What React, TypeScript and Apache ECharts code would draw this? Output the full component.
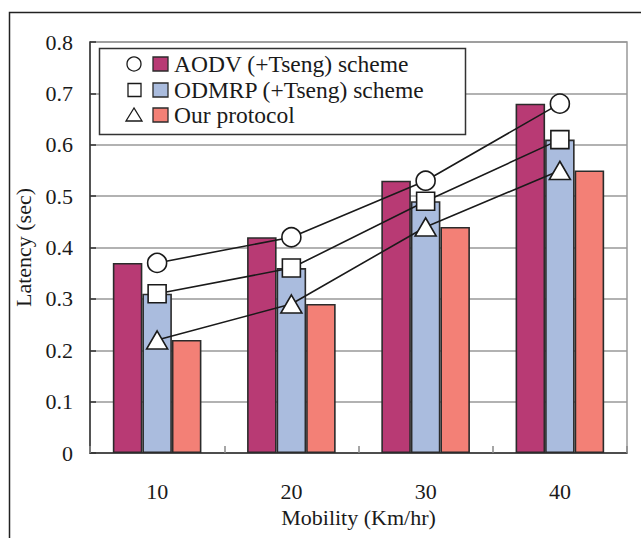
import React, { useEffect, useRef } from "react";
import * as echarts from "echarts";

const categories = ["10", "20", "30", "40"];
const aodvBars = [0.37, 0.42, 0.53, 0.68];
const odmrpBars = [0.31, 0.36, 0.49, 0.61];
const ourBars = [0.22, 0.29, 0.44, 0.55];
const aodvLine = [0.37, 0.42, 0.53, 0.68];
const odmrpLine = [0.31, 0.36, 0.49, 0.61];
const ourLine = [0.22, 0.29, 0.44, 0.55];
const seriesNames = ["AODV (+Tseng) scheme", "ODMRP (+Tseng) scheme", "Our protocol"];

const FONT = "Liberation Serif";
const colors = ["#B83A74", "#AABCDE", "#F38076"];

export default function App() {
  const ref = useRef<HTMLDivElement>(null);
  useEffect(() => {
    if (!ref.current) return;
    const chart = echarts.init(ref.current, undefined, { renderer: "svg" });
    const barStyle = (c: string) => ({ color: c, borderColor: "#2b2b2b", borderWidth: 1.6 });
    const lineSeries = (name: string, data: number[], symbol: string, size: any) => ({
      name,
      type: "line",
      data,
      symbol,
      symbolSize: size,
      z: 5,
      lineStyle: { color: "#1a1a1a", width: 1.6 },
      itemStyle: { color: "#ffffff", borderColor: "#1a1a1a", borderWidth: 1.6 },
    });
    const rowY = [64, 90, 115];
    const legendGraphics: any[] = [
      {
        type: "rect",
        shape: { x: 99.5, y: 48.5, width: 366, height: 86 },
        style: { fill: "#ffffff", stroke: "#333333", lineWidth: 1.5 },
        z: 100,
      },
    ];
    rowY.forEach((y, i) => {
      if (i === 0) {
        legendGraphics.push({
          type: "circle",
          shape: { cx: 134, cy: y, r: 7 },
          style: { fill: "#fff", stroke: "#1a1a1a", lineWidth: 1.3 },
          z: 101,
        });
      } else if (i === 1) {
        legendGraphics.push({
          type: "rect",
          shape: { x: 128, y: y - 6.5, width: 13, height: 13 },
          style: { fill: "#fff", stroke: "#1a1a1a", lineWidth: 1.3 },
          z: 101,
        });
      } else {
        legendGraphics.push({
          type: "polygon",
          shape: { points: [[134, y - 7], [126, y + 6], [142, y + 6]] },
          style: { fill: "#fff", stroke: "#1a1a1a", lineWidth: 1.3 },
          z: 101,
        });
      }
      legendGraphics.push({
        type: "rect",
        shape: { x: 153, y: y - 7, width: 15, height: 14 },
        style: { fill: colors[i], stroke: "#2b2b2b", lineWidth: 1.3 },
        z: 101,
      });
      legendGraphics.push({
        type: "text",
        x: 174,
        y: y,
        style: {
          text: seriesNames[i],
          fontFamily: FONT,
          fontSize: 23.5,
          fill: "#1a1a1a",
          verticalAlign: "middle",
          align: "left",
        },
        z: 101,
      });
    });

    chart.setOption({
      animation: false,
      backgroundColor: "#ffffff",
      textStyle: { fontFamily: FONT },
      grid: {
        left: 90,
        right: 14,
        top: 42,
        bottom: 85,
        show: true,
        borderColor: "#999999",
        borderWidth: 1.5,
        backgroundColor: "transparent",
      },
      graphic: [
        {
          type: "rect",
          shape: { x: 9.5, y: 12.5, width: 700, height: 600 },
          style: { fill: "none", stroke: "#222222", lineWidth: 1.5 },
          z: -1,
        },
        ...legendGraphics,
      ],
      xAxis: {
        type: "category",
        data: categories,
        name: "Mobility (Km/hr)",
        nameLocation: "middle",
        nameGap: 51,
        nameTextStyle: { fontFamily: FONT, fontSize: 22, color: "#1a1a1a" },
        axisLine: { show: true, lineStyle: { color: "#333333", width: 1.5 } },
        axisTick: { show: true, inside: true, length: 7, lineStyle: { color: "#888888", width: 1.5 } },
        axisLabel: { fontFamily: FONT, fontSize: 22, color: "#1a1a1a", margin: 27 },
        splitLine: { show: false },
      },
      yAxis: {
        type: "value",
        min: 0,
        max: 0.8,
        interval: 0.1,
        name: "Latency (sec)",
        nameLocation: "middle",
        nameGap: 49,
        nameTextStyle: { fontFamily: FONT, fontSize: 22, color: "#1a1a1a" },
        axisLine: { show: true, lineStyle: { color: "#333333", width: 1.5 } },
        axisTick: { show: true, inside: true, length: 6, lineStyle: { color: "#333333", width: 1.5 } },
        axisLabel: {
          fontFamily: FONT,
          fontSize: 22,
          color: "#1a1a1a",
          margin: 17,
          formatter: (v: number) => (v === 0 ? "0" : v.toFixed(1)),
        },
        splitLine: { show: true, lineStyle: { color: "#999999", width: 1.5 } },
      },
      series: [
        { name: seriesNames[0], type: "bar", data: aodvBars, barGap: "0%", barCategoryGap: "34%", itemStyle: barStyle(colors[0]) },
        { name: seriesNames[1], type: "bar", data: odmrpBars, barGap: "0%", barCategoryGap: "34%", itemStyle: barStyle(colors[1]) },
        { name: seriesNames[2], type: "bar", data: ourBars, barGap: "0%", barCategoryGap: "34%", itemStyle: barStyle(colors[2]) },
        lineSeries(seriesNames[0], aodvLine, "circle", 19),
        lineSeries(seriesNames[1], odmrpLine, "rect", 18),
        lineSeries(seriesNames[2], ourLine, "triangle", [21, 18]),
      ],
    });
    return () => chart.dispose();
  }, []);
  return (
    <div
      ref={ref}
      style={{ position: "fixed", left: 0, top: 0, width: 641, height: 538 }}
    />
  );
}
